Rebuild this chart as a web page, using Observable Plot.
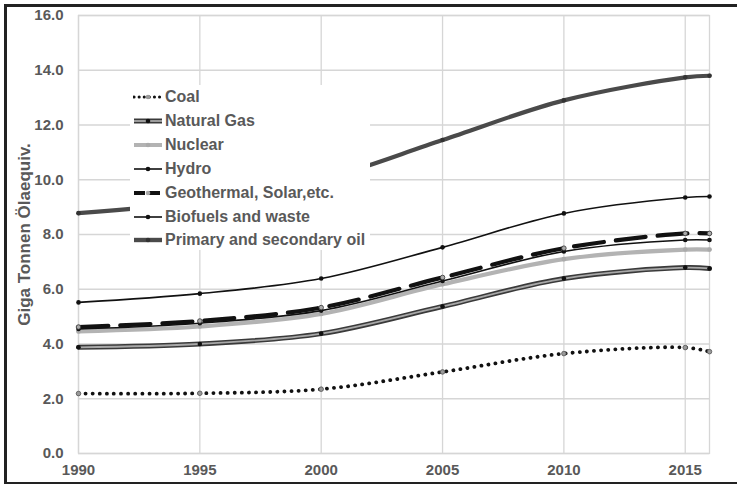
<!DOCTYPE html>
<html>
<head>
<meta charset="utf-8">
<script src="https://cdn.jsdelivr.net/npm/d3@7"></script>
<script src="https://cdn.jsdelivr.net/npm/@observablehq/plot@0.6"></script>
<style>
  html, body { margin: 0; padding: 0; background: #fff; }
  #wrap { position: relative; width: 737px; height: 484px; overflow: hidden; font-family: "Liberation Sans", Arial, sans-serif; }
  #border { position: absolute; left: 4px; top: 4px; width: 740px; height: 475px; border-left: 3px solid #222; border-top: 3px solid #222; border-bottom: 3px solid #222; pointer-events: none; }
  #legend { position: absolute; left: 130px; top: 85px; width: 240px; height: 165px; background: #fff; }
  .row { position: absolute; left: 0; height: 20px; display: flex; align-items: center; }
  .row svg { display: block; margin-left: 3px; }
  .row span { margin-left: 2px; font-size: 16px; font-weight: bold; color: #595959; white-space: nowrap; }
</style>
</head>
<body>
<div id="wrap"><div id="border"></div></div>
<script>
// ---- data (stacked cumulative values, Giga Tonnen Ölaequiv.) ----
const years = [1990, 1995, 2000, 2005, 2010, 2015, 2016];
const coal = [2.19, 2.2, 2.35, 2.98, 3.65, 3.87, 3.72];
const naturalGas = [3.88, 4.0, 4.38, 5.37, 6.39, 6.79, 6.76];
const nuclear = [4.46, 4.64, 5.1, 6.18, 7.1, 7.45, 7.45];
const hydro = [4.55, 4.76, 5.22, 6.3, 7.38, 7.8, 7.8];
const geothermal = [4.62, 4.84, 5.33, 6.43, 7.5, 8.04, 8.04];
const biofuels = [5.52, 5.84, 6.39, 7.53, 8.77, 9.35, 9.39];
const oil = [8.78, 9.2, 10.0, 11.45, 12.9, 13.74, 13.8];
const seriesNames = ["Coal", "Natural Gas", "Nuclear", "Hydro", "Geothermal, Solar,etc.", "Biofuels and waste", "Primary and secondary oil"];
const yTicks = [0, 2, 4, 6, 8, 10, 12, 14, 16];
const xTicks = [1990, 1995, 2000, 2005, 2010, 2015];
const yLabel = "Giga Tonnen Ölaequiv.";

const rows = (vals, name) => years.map((year, i) => ({year, value: vals[i], name}));
const C = "catmull-rom";
const L = (vals, o) => Plot.line(rows(vals), {x: "year", y: "value", curve: C, ...o});
const D = (vals, o) => Plot.dot(rows(vals), {x: "year", y: "value", r: 2.3, ...o});

const chart = Plot.plot({
  width: 737,
  height: 484,
  marginLeft: 78,
  marginRight: 28,
  marginTop: 15,
  marginBottom: 31,
  style: {fontFamily: "'Liberation Sans', Arial, sans-serif", fontSize: "15px", fontWeight: "bold", color: "#595959", background: "transparent"},
  x: {domain: [1990, 2016], label: null},
  y: {domain: [0, 16], label: null},
  marks: [
    Plot.ruleY(yTicks, {stroke: "#d6d6d6", strokeWidth: 1.3}),
    Plot.ruleX(xTicks, {stroke: "#d6d6d6", strokeWidth: 1.3}),
    Plot.frame({stroke: "#d6d6d6", strokeWidth: 1.3}),
    Plot.axisY({ticks: yTicks, tickFormat: d => d.toFixed(1), tickSize: 0, tickPadding: 15, label: null}),
    Plot.axisX({ticks: xTicks, tickFormat: d => String(d), tickSize: 0, tickPadding: 11, label: null}),
    Plot.text([yLabel], {frameAnchor: "left", textAnchor: "middle", lineAnchor: "middle", rotate: -90, dx: -54, fontSize: 17, fontWeight: "bold", fill: "#595959"}),
    // Coal
    L(coal, {stroke: "#111", strokeWidth: 3.8, strokeDasharray: "0.1 7", strokeLinecap: "round"}),
    D(coal, {fill: "#999", stroke: "#555", strokeWidth: 0.8}),
    // Natural gas (compound line)
    L(naturalGas, {stroke: "#3a3a3a", strokeWidth: 5}),
    L(naturalGas, {stroke: "#a8a8a8", strokeWidth: 1.8}),
    D(naturalGas, {fill: "#111"}),
    // Nuclear
    L(nuclear, {stroke: "#b3b3b3", strokeWidth: 4.2}),
    D(nuclear, {fill: "#aaa"}),
    // Hydro
    L(hydro, {stroke: "#111", strokeWidth: 1.6}),
    D(hydro, {fill: "#111"}),
    // Geothermal, Solar, etc.
    L(geothermal, {stroke: "#111", strokeWidth: 4.2, strokeDasharray: "30 12"}),
    D(geothermal, {fill: "#aaa", stroke: "#333", strokeWidth: 0.8}),
    // Biofuels and waste
    L(biofuels, {stroke: "#111", strokeWidth: 1.6}),
    D(biofuels, {fill: "#111"}),
    // Primary and secondary oil
    L(oil, {stroke: "#4a4a4a", strokeWidth: 4.2}),
    D(oil, {fill: "#333"})
  ]
});
const wrap = document.getElementById("wrap");
wrap.insertBefore(chart, wrap.firstChild);

// ---- legend (HTML overlay with white background) ----
const legendStyles = [
  {stroke: "#111", w: 3, dash: "0.1 5", cap: "round", dot: "#999"},
  {stroke: "#3a3a3a", w: 5, inner: "#a8a8a8", dot: "#111"},
  {stroke: "#b3b3b3", w: 4, dot: "#aaa"},
  {stroke: "#111", w: 1.6, dot: "#111"},
  {stroke: "#111", w: 4, dash: "11 4", dot: "#aaa"},
  {stroke: "#111", w: 1.6, dot: "#111"},
  {stroke: "#4a4a4a", w: 4.4, dot: "#333"}
];
const legend = document.createElement("div");
legend.id = "legend";
const rowCenters = [12, 36, 60, 84, 108, 132, 155];
seriesNames.forEach((name, i) => {
  const s = legendStyles[i];
  const row = document.createElement("div");
  row.className = "row";
  row.style.top = (rowCenters[i] - 10) + "px";
  const ns = "http://www.w3.org/2000/svg";
  const svg = document.createElementNS(ns, "svg");
  svg.setAttribute("width", 30); svg.setAttribute("height", 10);
  const line = document.createElementNS(ns, "line");
  line.setAttribute("x1", 1); line.setAttribute("x2", 29); line.setAttribute("y1", 5); line.setAttribute("y2", 5);
  line.setAttribute("stroke", s.stroke); line.setAttribute("stroke-width", s.w);
  if (s.dash) line.setAttribute("stroke-dasharray", s.dash);
  if (s.cap) line.setAttribute("stroke-linecap", s.cap);
  svg.appendChild(line);
  if (s.inner) {
    const l2 = line.cloneNode();
    l2.setAttribute("stroke", s.inner); l2.setAttribute("stroke-width", 1.8);
    svg.appendChild(l2);
  }
  const c = document.createElementNS(ns, "circle");
  c.setAttribute("cx", 15); c.setAttribute("cy", 5); c.setAttribute("r", 2.3); c.setAttribute("fill", s.dot);
  svg.appendChild(c);
  row.appendChild(svg);
  const t = document.createElement("span");
  t.textContent = name;
  row.appendChild(t);
  legend.appendChild(row);
});
wrap.appendChild(legend);
</script>
</body>
</html>
